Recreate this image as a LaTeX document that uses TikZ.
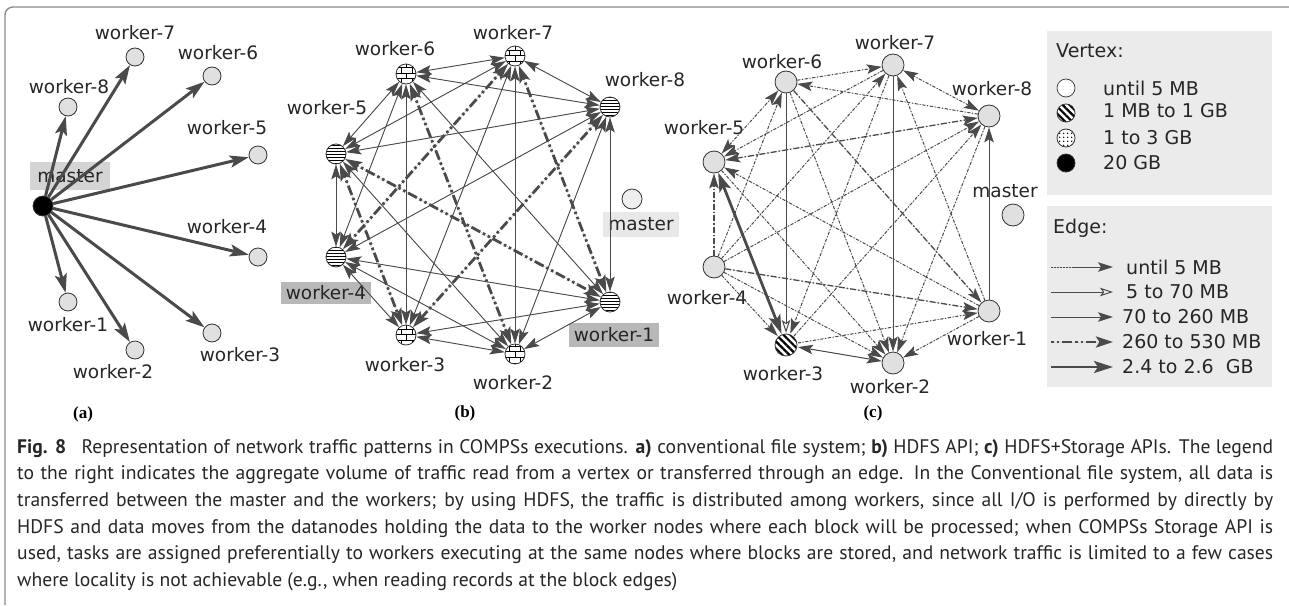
\documentclass[tikz,border=0pt]{standalone}
\usepackage{fontspec}
\setmainfont{DejaVu Sans}
\newfontfamily\capfont{PT Sans}
\newfontfamily\panelfont{Liberation Serif}
\usetikzlibrary{arrows.meta,patterns,patterns.meta}
\definecolor{eg}{HTML}{4A4A4A}
\definecolor{nodefill}{HTML}{E0E0E0}
\definecolor{legbg}{HTML}{EBEBEB}
\definecolor{lblA}{HTML}{D4D4D4}
\definecolor{lblB}{HTML}{B8B8B8}
\definecolor{lblC}{HTML}{E8E8E8}
\definecolor{framegray}{HTML}{8A8A8A}
\tikzset{
  vtx/.style={circle, draw=black!80, line width=0.8pt, fill=nodefill, minimum size=19pt, inner sep=0pt},
  brk/.style={vtx, preaction={fill=white}, pattern=bricks, pattern color=black},
  hln/.style={vtx, preaction={fill=white}, pattern=horizontal lines, pattern color=black},
  hatch/.style={vtx, preaction={fill=white}, pattern={Lines[angle=-45,distance=5pt,line width=2.2pt]}, pattern color=black},
  dotv/.style={vtx, preaction={fill=white}, pattern={Dots[distance=4pt,radius=0.9pt]}, pattern color=black},
  lbl/.style={font=\fontsize{18.5}{20}\selectfont, inner sep=2pt, text=black!85},
  boxlbl/.style={lbl, inner xsep=5pt, minimum height=24pt},
  lg/.style={font=\fontsize{19}{21}\selectfont, inner sep=0pt, anchor=west, text=black!85},
  pl/.style={font=\panelfont\bfseries\fontsize{17}{19}\selectfont, inner sep=0pt},
  captxt/.style={font=\capfont\fontsize{19.6}{24}\selectfont, anchor=base west, inner sep=0pt, text=black!85},
  tipS/.tip={Stealth[length=15pt,width=9.5pt,inset=3pt]},
  tipM/.tip={Stealth[length=17pt,width=11pt,inset=3.5pt]},
  tipL/.tip={Stealth[length=19pt,width=12pt,inset=4pt]},
  tipO/.tip={Stealth[open,length=13pt,width=8.5pt,inset=3pt]},
  thickA/.style={draw=eg, fill=eg, line width=3pt, -tipL},
  thinB/.style={draw=eg, fill=eg, line width=0.9pt, tipS-tipS},
  dashB/.style={draw=eg, fill=eg, line width=2.8pt, dash pattern=on 2.5pt off 3pt on 2.5pt off 3pt on 10pt off 3pt, tipM-tipM},
  dotC/.style={draw=eg, fill=eg, line width=1pt, dash pattern=on 3pt off 1.8pt on 1pt off 1.8pt},
  ddC/.style={draw=eg, fill=eg, line width=1.3pt, dash pattern=on 6pt off 2pt on 1.5pt off 2pt},
  solC/.style={draw=eg, fill=eg, line width=1pt},
  thkC/.style={draw=eg, fill=eg, line width=2.8pt},
}
\newcommand{\capline}[1]{\makebox[1256pt][s]{#1}}
\begin{document}
\begin{tikzpicture}[x=1pt,y=-1pt]
\useasboundingbox (0,0) rectangle (1289,605);
% frame
\draw[framegray, line width=1.4pt, rounded corners=8pt] (5,605) -- (5,7) -- (1289,7);

% ================= (a) =================
\node[boxlbl, fill=lblA, minimum height=28pt, inner xsep=7pt] (lam) at (70,176) {master};
\node[lbl] (la7) at (135,33) {worker-7};
\node[lbl] (la6) at (218,53) {worker-6};
\node[lbl] (la8) at (69,87) {worker-8};
\node[lbl] (la5) at (227,128) {worker-5};
\node[lbl] (la4) at (227,227) {worker-4};
\node[lbl] (la1) at (68,325) {worker-1};
\node[lbl] (la2) at (113,372) {worker-2};
\node[lbl] (la3) at (240,355) {worker-3};
\node[vtx, fill=black, minimum size=20pt] (am) at (43,206) {};
\node[vtx, minimum size=18pt] (a7) at (135,57) {};
\node[vtx, minimum size=18pt] (a6) at (212,76) {};
\node[vtx, minimum size=18pt] (a8) at (68,107) {};
\node[vtx, minimum size=18pt] (a5) at (258,155) {};
\node[vtx, minimum size=18pt] (a4) at (258,257) {};
\node[vtx, minimum size=18pt] (a1) at (68,302) {};
\node[vtx, minimum size=18pt] (a2) at (135,350) {};
\node[vtx, minimum size=18pt] (a3) at (212,333) {};
\foreach \w in {1,...,8} \draw[thickA] (am) -- (a\w);
\node[pl] (pa) at (83,414) {(a)};

% ================= (b) =================
\node[lbl] (lb7) at (513,33) {worker-7};
\node[lbl] (lb6) at (395,49) {worker-6};
\node[lbl] (lb8) at (645,80) {worker-8};
\node[lbl] (lb5) at (327,108) {worker-5};
\node[boxlbl, fill=lblC, minimum height=25pt] (lbm) at (641,224) {master};
\node[boxlbl, fill=lblB, minimum height=22pt] (lb4) at (326,293) {worker-4};
\node[boxlbl, fill=lblB, minimum height=24pt] (lb1) at (614,335) {worker-1};
\node[lbl] (lb3) at (405,365) {worker-3};
\node[lbl] (lb2) at (513,383) {worker-2};
\node[brk, minimum size=20pt] (b7) at (515,56) {};
\node[brk, minimum size=20pt] (b6) at (406,74) {};
\node[hln, minimum size=20pt] (b8) at (610,107) {};
\node[hln, minimum size=20pt] (b5) at (336,154) {};
\node[hln, minimum size=20pt] (b4) at (336,257) {};
\node[hln, minimum size=20pt] (b1) at (610,302) {};
\node[brk, minimum size=20pt] (b3) at (406,335) {};
\node[brk, minimum size=20pt] (b2) at (515,354) {};
\node[vtx, fill=nodefill!50, minimum size=20pt] (bm) at (632,199) {};
\foreach \u/\v in {1/2,1/3,1/4,1/6,1/8,2/3,2/4,2/5,2/7,2/8,3/4,3/6,3/7,4/5,4/6,4/8,5/6,5/7,5/8,6/7,6/8,7/8}
  \draw[thinB] (b\u) -- (b\v);
\foreach \u/\v in {7/4,6/2,5/1,8/3,7/1,5/3}
  \draw[dashB] (b\u) -- (b\v);
\node[pl] (pb) at (465,413) {(b)};

% ================= (c) =================
\node[lbl] (lc7) at (895,43) {worker-7};
\node[lbl] (lc6) at (782,62) {worker-6};
\node[lbl] (lc8) at (992,89) {worker-8};
\node[lbl] (lc5) at (704,128) {worker-5};
\node[lbl] (lc4) at (707,298) {worker-4};
\node[lbl] (lcm) at (1005,191) {master};
\node[lbl] (lc1) at (987,339) {worker-1};
\node[lbl] (lc3) at (783,374) {worker-3};
\node[lbl] (lc2) at (890,387) {worker-2};
\node[vtx, minimum size=22pt] (c7) at (893,65) {};
\node[vtx, minimum size=22pt] (c6) at (786,82) {};
\node[vtx, minimum size=22pt] (c8) at (989,116) {};
\node[vtx, minimum size=22pt] (c5) at (714,162) {};
\node[vtx, minimum size=22pt] (c4) at (714,267) {};
\node[vtx, minimum size=22pt] (c1) at (989,311) {};
\node[hatch, minimum size=22pt] (c3) at (786,345) {};
\node[vtx, minimum size=22pt] (c2) at (893,363) {};
\node[vtx, minimum size=22pt] (cm) at (1013,215) {};
% dotted
\foreach \u/\v in {6/7,4/3,1/2,3/1,3/8,4/8,1/5,6/2,7/3,4/7,7/5,1/7,8/2,8/6,4/2,5/2,4/6}
  \draw[dotC, -tipS] (c\u) -- (c\v);
\draw[dotC, tipS-tipS] (c8) -- (c7);
\draw[dotC, tipS-tipS] (c5) -- (c6);
% dash-dot
\foreach \u/\v in {4/5,4/1,6/1}
  \draw[ddC, -tipS] (c\u) -- (c\v);
\draw[ddC, tipS-tipS] (c5) -- (c8);
% solid
\draw[solC, tipS-tipS] (c2) -- (c3);
\draw[solC, -tipS] (c1) -- (c8);
\draw[solC, -tipO] (c6) -- (c3);
\draw[solC, -tipS] (c7) -- (c2);
% thick
\draw[thkC, tipL-tipL] (c3) -- (c5);
\node[pl] (pc) at (873,413) {(c)};

% ================= legend =================
\node[fill=legbg, anchor=north west, minimum width=225pt, minimum height=164pt, inner sep=0pt] (vbox) at (1047,31) {};
\node[lg] (vt) at (1056,51) {Vertex:};
\node[vtx, fill=white, line width=0.7pt, minimum size=18pt] (v1) at (1066,88) {};
\node[hatch, minimum size=18pt] (v2) at (1066,113) {};
\node[dotv, minimum size=18pt] (v3) at (1066,138) {};
\node[vtx, fill=black, minimum size=18pt] (v4) at (1066,163) {};
\node[lg] (vt1) at (1103,88) {until 5 MB};
\node[lg] (vt2) at (1103,111) {1 MB to 1 GB};
\node[lg] (vt3) at (1103,138) {1 to 3 GB};
\node[lg] (vt4) at (1103,163) {20 GB};

\node[fill=legbg, anchor=north west, minimum width=225pt, minimum height=181pt, inner sep=0pt] (ebox) at (1047,206) {};
\node[lg] (et) at (1053,228) {Edge:};
\coordinate (e1a) at (1051,267); \coordinate (e1b) at (1073,267); \coordinate (e1c) at (1113,267);
\coordinate (e2a) at (1051,292); \coordinate (e2b) at (1113,292);
\coordinate (e3a) at (1051,317); \coordinate (e3b) at (1113,317);
\coordinate (e4a) at (1051,342); \coordinate (e4b) at (1113,342);
\coordinate (e5a) at (1051,367); \coordinate (e5b) at (1113,367);
\draw[dotC, dash pattern=on 1.5pt off 1.5pt] (e1a) -- (e1b);
\draw[solC, -tipS] (e1b) -- (e1c);
\draw[solC, -tipO] (e2a) -- (e2b);
\draw[solC, -tipS] (e3a) -- (e3b);
\draw[dashB, -tipM] (e4a) -- (e4b);
\draw[thkC, -tipL] (e5a) -- (e5b);
\node[lg] (et1) at (1126,267) {until 5 MB};
\node[lg] (et2) at (1126,292) {5 to 70 MB};
\node[lg] (et3) at (1122,317) {70 to 260 MB};
\node[lg] (et4) at (1122,342) {260 to 530 MB};
\node[lg] (et5) at (1122,367) {2.4 to 2.6~~GB};

% ================= caption =================
\node[captxt] (cap1) at (17,453) {\capline{\textbf{Fig. 8}\hspace{0.5em} Representation of network traffic patterns in COMPSs executions. \textbf{a)} conventional file system; \textbf{b)} HDFS API; \textbf{c)} HDFS+Storage APIs. The legend}};
\node[captxt] (cap2) at (17,479.7) {\capline{to the right indicates the aggregate volume of traffic read from a vertex or transferred through an edge. In the Conventional file system, all data is}};
\node[captxt] (cap3) at (17,506.4) {\capline{transferred between the master and the workers; by using HDFS, the traffic is distributed among workers, since all I/O is performed by directly by}};
\node[captxt] (cap4) at (17,533.1) {\capline{HDFS and data moves from the datanodes holding the data to the worker nodes where each block will be processed; when COMPSs Storage API is}};
\node[captxt] (cap5) at (17,559.8) {\capline{used, tasks are assigned preferentially to workers executing at the same nodes where blocks are stored, and network traffic is limited to a few cases}};
\node[captxt] (cap6) at (17,586.5) {where locality is not achievable (e.g., when reading records at the block edges)};
\end{tikzpicture}
\end{document}
